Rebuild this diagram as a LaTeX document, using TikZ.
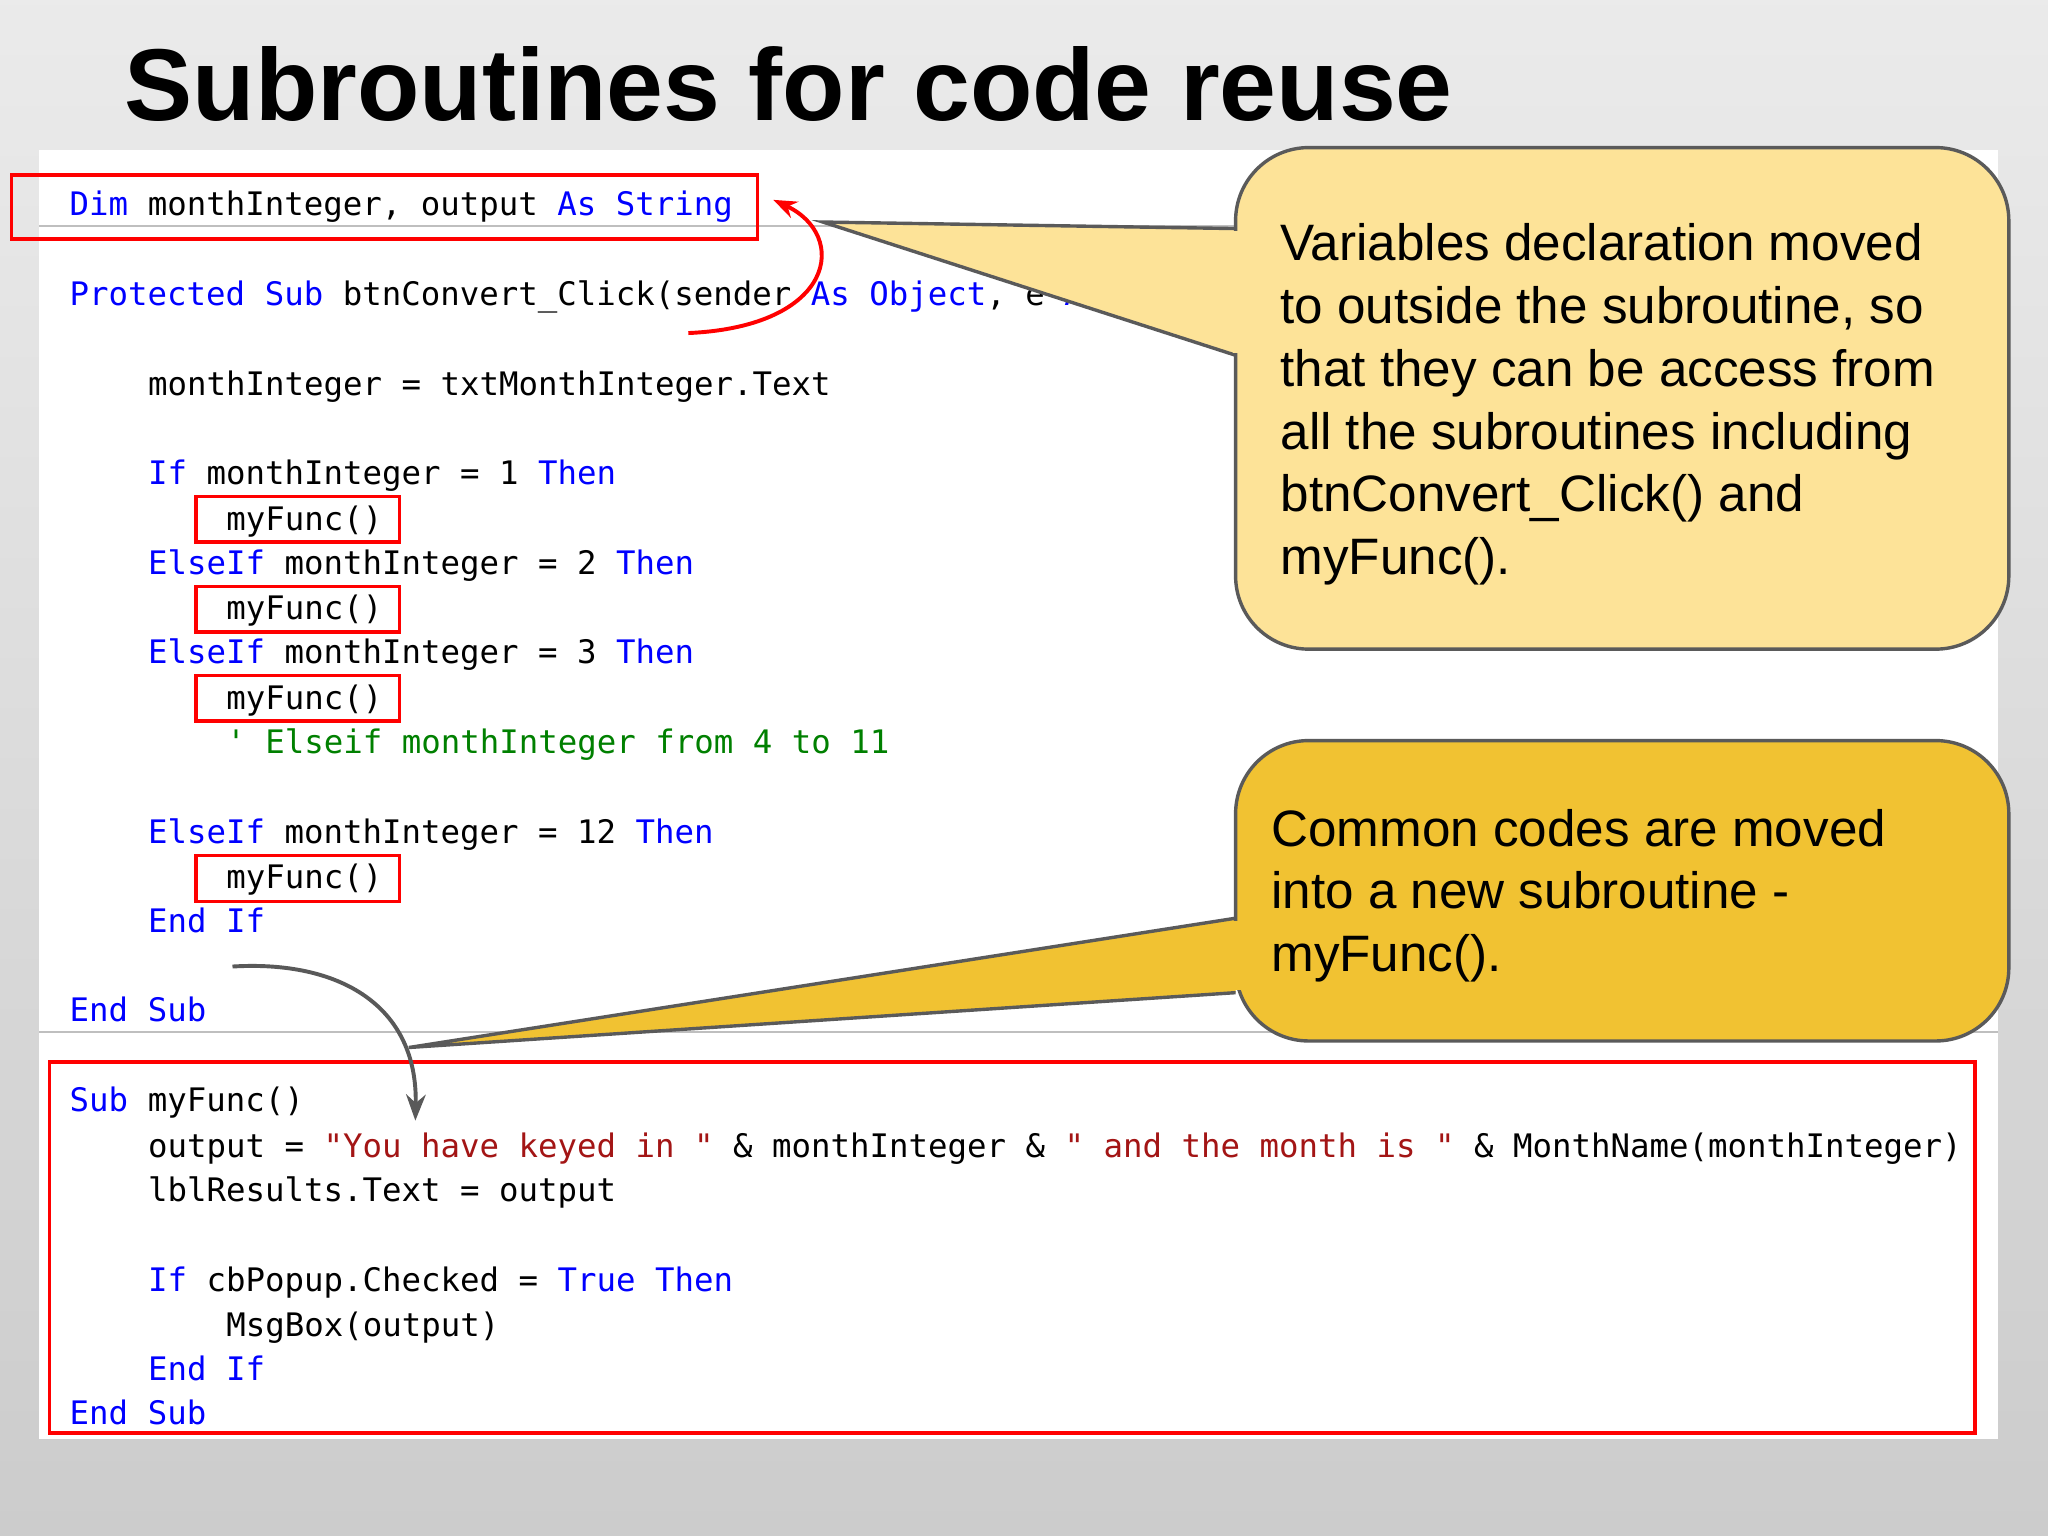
\documentclass[tikz,border=0pt]{standalone}
\usepackage{fontspec}
\setmainfont{Liberation Sans}
\setmonofont{DejaVu Sans Mono}
\usetikzlibrary{arrows.meta}
\definecolor{kw}{RGB}{0,0,255}
\definecolor{st}{RGB}{163,21,21}
\definecolor{cm}{RGB}{0,128,0}
\definecolor{cy1}{RGB}{253,227,152}
\definecolor{cy2}{RGB}{241,194,50}
\definecolor{edgegray}{RGB}{90,90,90}
\newcommand{\K}[1]{\textcolor{kw}{#1}}
\newcommand{\Sx}[1]{\textcolor{st}{#1}}
\begin{document}
\begin{tikzpicture}[x=0.5pt,y=-0.5pt,
  code/.style={anchor=base west,inner sep=0pt,font=\ttfamily\fontsize{12.4}{12}\selectfont,text=black},
  redbox/.style={draw=red,line width=1.3pt},
  callout/.style={draw=edgegray,line width=1.3pt,rounded corners=28pt},
  ctext/.style={anchor=north west,align=left,inner sep=0pt,font=\fontsize{19.6}{24}\selectfont}]
\useasboundingbox (0,0) rectangle (1568,1176);
\shade[top color=white!92!black,bottom color=white!80!black] (0,0) rectangle (1568,1176);
\fill[white] (30,115) rectangle (1530,1102);
\draw[black!25,line width=1pt] (30,173) -- (1530,173);
\draw[black!25,line width=1pt] (30,790) -- (1530,790);
\node[anchor=base west,inner sep=0pt,font=\bfseries\fontsize{39.1}{40}\selectfont] (title) at (95,92) {Subroutines for code reuse};
% code
\node[code] (l1) at (53,165) {\K{Dim} monthInteger, output \K{As} \K{String}};
\node[code] (l2) at (53,234) {\K{Protected} \K{Sub} btnConvert\_Click(sender \K{As} \K{Object}, e \K{As}};
\node[code] (l3) at (113,303) {monthInteger = txtMonthInteger.Text};
\node[code] (l4) at (113,371) {\K{If} monthInteger = 1 \K{Then}};
\node[code] (l5) at (173,406) {myFunc()};
\node[code] (l6) at (113,440) {\K{ElseIf} monthInteger = 2 \K{Then}};
\node[code] (l7) at (173,474) {myFunc()};
\node[code] (l8) at (113,508) {\K{ElseIf} monthInteger = 3 \K{Then}};
\node[code] (l9) at (173,543) {myFunc()};
\node[code,text=cm] (l10) at (173,577) {' Elseif monthInteger from 4 to 11};
\node[code] (l11) at (113,646) {\K{ElseIf} monthInteger = 12 \K{Then}};
\node[code] (l12) at (173,680) {myFunc()};
\node[code] (l13) at (113,714) {\K{End} \K{If}};
\node[code] (l14) at (53,782) {\K{End} \K{Sub}};
\node[code] (m1) at (53,851) {\K{Sub} myFunc()};
\node[code] (m2) at (113,886) {output = \Sx{"You have keyed in "} \& monthInteger \& \Sx{" and the month is "} \& MonthName(monthInteger)};
\node[code] (m3) at (113,920) {lblResults.Text = output};
\node[code] (m4) at (113,989) {\K{If} cbPopup.Checked = \K{True} \K{Then}};
\node[code] (m5) at (173,1023) {MsgBox(output)};
\node[code] (m6) at (113,1057) {\K{End} \K{If}};
\node[code] (m7) at (53,1091) {\K{End} \K{Sub}};
% red boxes
\draw[redbox] (9,134) rectangle (580,183);
\foreach \y in {380,449,517,655} \draw[redbox] (150,\y) rectangle (306,\y+35);
\draw[redbox] (38,813) rectangle (1512,1097);
% callout 1
\fill[cy1] (946,175) -- (630,170) -- (946,272) -- cycle;
\draw[edgegray,line width=1.3pt] (946,175) -- (630,170) -- (946,272);
\draw[callout,fill=cy1] (946,113) rectangle (1538,497);
\fill[cy1] (944,177) rectangle (950,270);
\node[ctext] (c1) at (980,171) {Variables declaration moved\\to outside the subroutine, so\\that they can be access from\\all the subroutines including\\btnConvert\_Click() and\\myFunc().};
% callout 2
\fill[cy2] (946,703) -- (313,802) -- (946,760) -- cycle;
\draw[edgegray,line width=1.3pt] (946,703) -- (313,802) -- (946,760);
\draw[callout,fill=cy2] (946,567) rectangle (1538,797);
\fill[cy2] (944,705) rectangle (950,758);
\node[ctext] (c2) at (973,619) {Common codes are moved\\into a new subroutine -\\myFunc().};
% arrows
\coordinate (ra) at (527,255);
\coordinate (rb) at (592,153);
\draw[red,line width=1.5pt,-{Stealth[length=9pt]}] (ra) .. controls (640,250) and (650,180) .. (rb);
\coordinate (ga) at (178,740);
\coordinate (gb) at (318,858);
\draw[black!65,line width=1.5pt,-{Stealth[length=10pt]}] (ga) .. controls (260,735) and (320,770) .. (gb);
\end{tikzpicture}
\end{document}
